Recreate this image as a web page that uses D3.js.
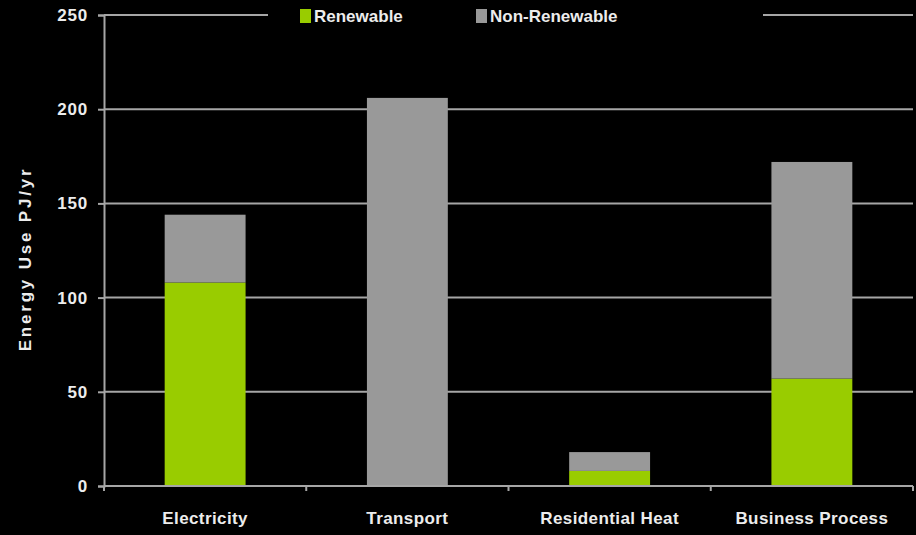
<!DOCTYPE html>
<html>
<head>
<meta charset="utf-8">
<script src="https://cdn.jsdelivr.net/npm/d3@7"></script>
<style>
body { margin: 0; background: #000; }
text { font-family: "Liberation Sans", Arial, sans-serif; font-weight: bold; fill: #ececec; }
</style>
</head>
<body>
<script>
const width = 916
const height = 535
const margin = {top: 15, left: 104, bottom: 49, right: 3}

const categories = ["Electricity", "Transport", "Residential Heat", "Business Process"]
const renewable = [108, 0, 8, 57]
const nonRenewable = [36, 206, 10, 115]
const seriesNames = ["Renewable", "Non-Renewable"]
const yTicks = [0, 50, 100, 150, 200, 250]

const colors = {"Renewable": "#99cc00", "Non-Renewable": "#999999"}
const gridColor = "#a6a6a6"

const rows = categories.map((c, i) => ({category: c, "Renewable": renewable[i], "Non-Renewable": nonRenewable[i]}))
const stacked = d3.stack().keys(seriesNames)(rows)

const svg = d3.select("body").append("svg")
    .attr("width", width)
    .attr("height", height)
svg.append("rect").attr("width", width).attr("height", height).attr("fill", "#000")

const x = d3.scaleBand()
    .domain(categories)
    .range([margin.left, width - margin.right])
    .paddingInner(0.6)
    .paddingOuter(0.3)
const y = d3.scaleLinear()
    .domain([0, 250])
    .range([height - margin.bottom, margin.top])

// gridlines
svg.append("g").selectAll("line")
    .data(yTicks.filter(t => t > 0))
    .enter().append("line")
    .attr("x1", margin.left)
    .attr("x2", width - margin.right)
    .attr("y1", d => y(d))
    .attr("y2", d => y(d))
    .attr("stroke", gridColor)
    .attr("stroke-width", 2)

// bars
svg.append("g").selectAll("g")
    .data(stacked)
    .enter().append("g")
    .attr("fill", s => colors[s.key])
    .selectAll("rect")
    .data(s => s)
    .enter().append("rect")
    .attr("x", d => x(d.data.category))
    .attr("width", x.bandwidth())
    .attr("y", d => y(d[1]))
    .attr("height", d => y(d[0]) - y(d[1]))

// y axis
const yAxis = svg.append("g")
    .attr("transform", `translate(${margin.left},0)`)
    .call(d3.axisLeft(y).tickValues(yTicks).tickSize(6).tickPadding(10))
yAxis.select(".domain").attr("stroke", gridColor).attr("stroke-width", 2)
yAxis.selectAll(".tick line").attr("stroke", gridColor).attr("stroke-width", 2)
yAxis.selectAll(".tick text")
    .attr("font-size", 17)
    .attr("letter-spacing", 0.8)
    .attr("fill", "#ececec")
    .attr("font-family", "\"Liberation Sans\", Arial, sans-serif")
    .attr("font-weight", "bold")

// x axis
const step = x.step()
const boundaries = d3.range(categories.length + 1).map(i => margin.left + i * step)
svg.append("line")
    .attr("x1", margin.left).attr("x2", width - margin.right)
    .attr("y1", y(0)).attr("y2", y(0))
    .attr("stroke", gridColor).attr("stroke-width", 2)
svg.append("g").selectAll("line")
    .data(boundaries)
    .enter().append("line")
    .attr("x1", d => d).attr("x2", d => d)
    .attr("y1", y(0)).attr("y2", y(0) + 5)
    .attr("stroke", gridColor).attr("stroke-width", 2)
svg.append("g").selectAll("text")
    .data(categories)
    .enter().append("text")
    .attr("x", d => x(d) + x.bandwidth() / 2)
    .attr("y", y(0) + 38)
    .attr("text-anchor", "middle")
    .attr("font-size", 17)
    .attr("letter-spacing", 0.4)
    .text(d => d)

// y title
svg.append("text")
    .attr("transform", `translate(31,259) rotate(-90)`)
    .attr("text-anchor", "middle")
    .attr("font-size", 17)
    .attr("letter-spacing", 2.8)
    .text("Energy Use PJ/yr")

// legend (black box over the top gridline)
const legend = svg.append("g")
legend.append("rect")
    .attr("x", 268).attr("y", 0)
    .attr("width", 495).attr("height", 32)
    .attr("fill", "#000")
const legendX = [300, 476]
const items = legend.selectAll("g.item")
    .data(seriesNames)
    .enter().append("g")
    .attr("class", "item")
    .attr("transform", (d, i) => `translate(${legendX[i]},0)`)
items.append("rect")
    .attr("x", 0).attr("y", 9)
    .attr("width", 11).attr("height", 14)
    .attr("fill", d => colors[d])
items.append("text")
    .attr("x", 14).attr("y", 22)
    .attr("font-size", 17)
    .text(d => d)
</script>
</body>
</html>
